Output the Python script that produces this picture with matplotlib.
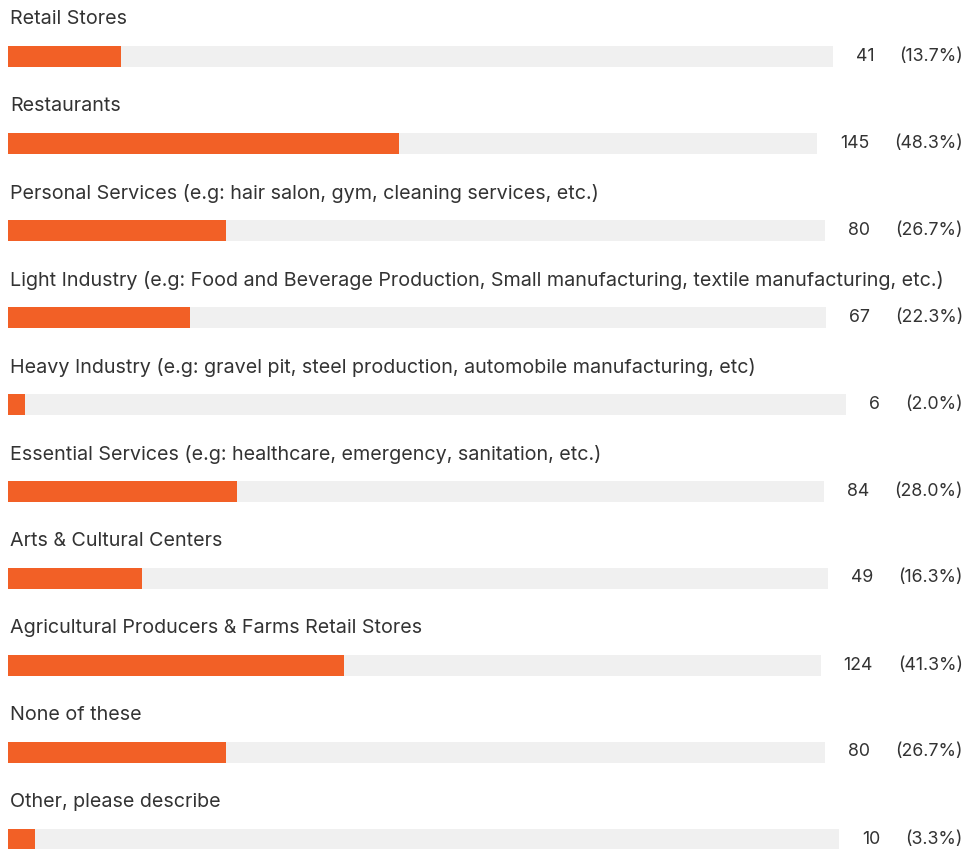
import matplotlib
matplotlib.use("Agg")
import matplotlib.pyplot as plt

categories = [
    "Retail Stores",
    "Restaurants",
    "Personal Services (e.g: hair salon, gym, cleaning services, etc.)",
    "Light Industry (e.g: Food and Beverage Production, Small manufacturing, textile manufacturing, etc.)",
    "Heavy Industry (e.g: gravel pit, steel production, automobile manufacturing, etc)",
    "Essential Services (e.g: healthcare, emergency, sanitation, etc.)",
    "Arts & Cultural Centers",
    "Agricultural Producers & Farms Retail Stores",
    "None of these",
    "Other, please describe",
]
counts = [41, 145, 80, 67, 6, 84, 49, 124, 80, 10]
percents = [13.7, 48.3, 26.7, 22.3, 2.0, 28.0, 16.3, 41.3, 26.7, 3.3]

ORANGE = "#F26026"
TRACK = "#F0F0F0"
TEXT = "#333333"
FONT = "Inter"

W, H = 969, 849
fig = plt.figure(figsize=(W / 100, H / 100), dpi=100)
ax = fig.add_axes([0, 0, 1, 1])
ax.set_xlim(0, W)
ax.set_ylim(H, 0)
ax.axis("off")

left = 8
row_h = 87
first_bar = 56
bar_h = 21
fs_label = 14.2
fs = 12.8

fig.canvas.draw()
renderer = fig.canvas.get_renderer()
inv = ax.transData.inverted()

for i, (cat, c, p) in enumerate(zip(categories, counts, percents)):
    yb = first_bar + row_h * i
    ax.text(left + 2, yb - 37, cat, fontsize=fs_label, color=TEXT, family=FONT,
            va="center", ha="left")
    pt = ax.text(963, yb, f"({p:.1f}%)", fontsize=fs, color=TEXT, family=FONT,
                 va="center", ha="right")
    bb = pt.get_window_extent(renderer)
    px0 = inv.transform((bb.x0, bb.y0))[0]
    ct = ax.text(px0 - 25, yb, f"{c}", fontsize=fs, color=TEXT, family=FONT,
                 va="center", ha="right")
    cb = ct.get_window_extent(renderer)
    cx0 = inv.transform((cb.x0, cb.y0))[0]
    track_end = cx0 - 23
    track_w = track_end - left
    ax.barh(yb, track_w, left=left, height=bar_h, color=TRACK, linewidth=0)
    ax.barh(yb, track_w * p / 100.0, left=left, height=bar_h, color=ORANGE, linewidth=0)

fig.savefig("out.png", dpi=100)
